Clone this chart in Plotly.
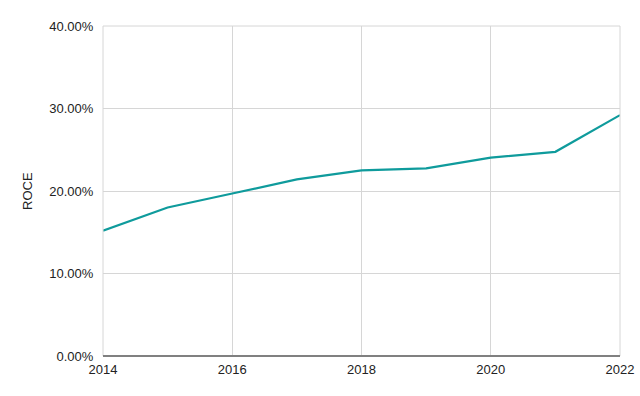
import plotly.graph_objects as go

years = [2014, 2015, 2016, 2017, 2018, 2019, 2020, 2021, 2022]
roce = [15.2, 18.0, 19.7, 21.4, 22.5, 22.75, 24.05, 24.75, 29.2]
y_ticks = [0, 10, 20, 30, 40]
y_tick_labels = ["0.00%", "10.00%", "20.00%", "30.00%", "40.00%"]
x_ticks = [2014, 2016, 2018, 2020, 2022]

L, R, T, B = 103, 20, 26, 40
W, H = 640, 396
pw = W - L - R

fig = go.Figure()
fig.add_trace(go.Scatter(x=years, y=roce, mode="lines",
                         line=dict(color="#0f9b9c", width=2.2),
                         showlegend=False))
font = dict(family="Liberation Sans, Arial, sans-serif", size=13, color="#222222")
fig.update_layout(
    width=W, height=H,
    margin=dict(l=L, r=R, t=T, b=B, autoexpand=False),
    paper_bgcolor="white", plot_bgcolor="white",
    font=font,
    xaxis=dict(range=[2014, 2022], tickvals=x_ticks, ticktext=[str(v) for v in x_ticks],
               showgrid=True, gridcolor="#d6d6d6", gridwidth=1, automargin=False,
               zeroline=False, showline=False, ticks="outside", ticklen=1,
               tickcolor="rgba(0,0,0,0)"),
    yaxis=dict(range=[0, 40], tickvals=y_ticks, ticktext=y_tick_labels,
               showgrid=True, gridcolor="#d6d6d6", gridwidth=1, automargin=False,
               zeroline=False, showline=False, ticks="outside", ticklen=6,
               tickcolor="rgba(0,0,0,0)"),
    shapes=[
        dict(type="line", xref="paper", yref="paper", x0=0, x1=0, y0=0, y1=1,
             line=dict(color="#d6d6d6", width=1)),
        dict(type="line", xref="paper", yref="paper", x0=1, x1=1, y0=0, y1=1,
             line=dict(color="#d6d6d6", width=1)),
        dict(type="line", xref="paper", yref="paper", x0=0, x1=1, y0=1, y1=1,
             line=dict(color="#d6d6d6", width=1)),
        dict(type="line", xref="paper", yref="paper", x0=0, x1=1, y0=0, y1=0,
             line=dict(color="#808080", width=2)),
    ],
    annotations=[dict(text="ROCE", xref="paper", yref="paper",
                      x=(27 - L) / pw, y=0.5, xanchor="center", yanchor="middle",
                      textangle=-90, showarrow=False, font=font)],
)
fig.write_html("out.html", config={"displayModeBar": False},
               post_script="document.body.style.margin='0';")
